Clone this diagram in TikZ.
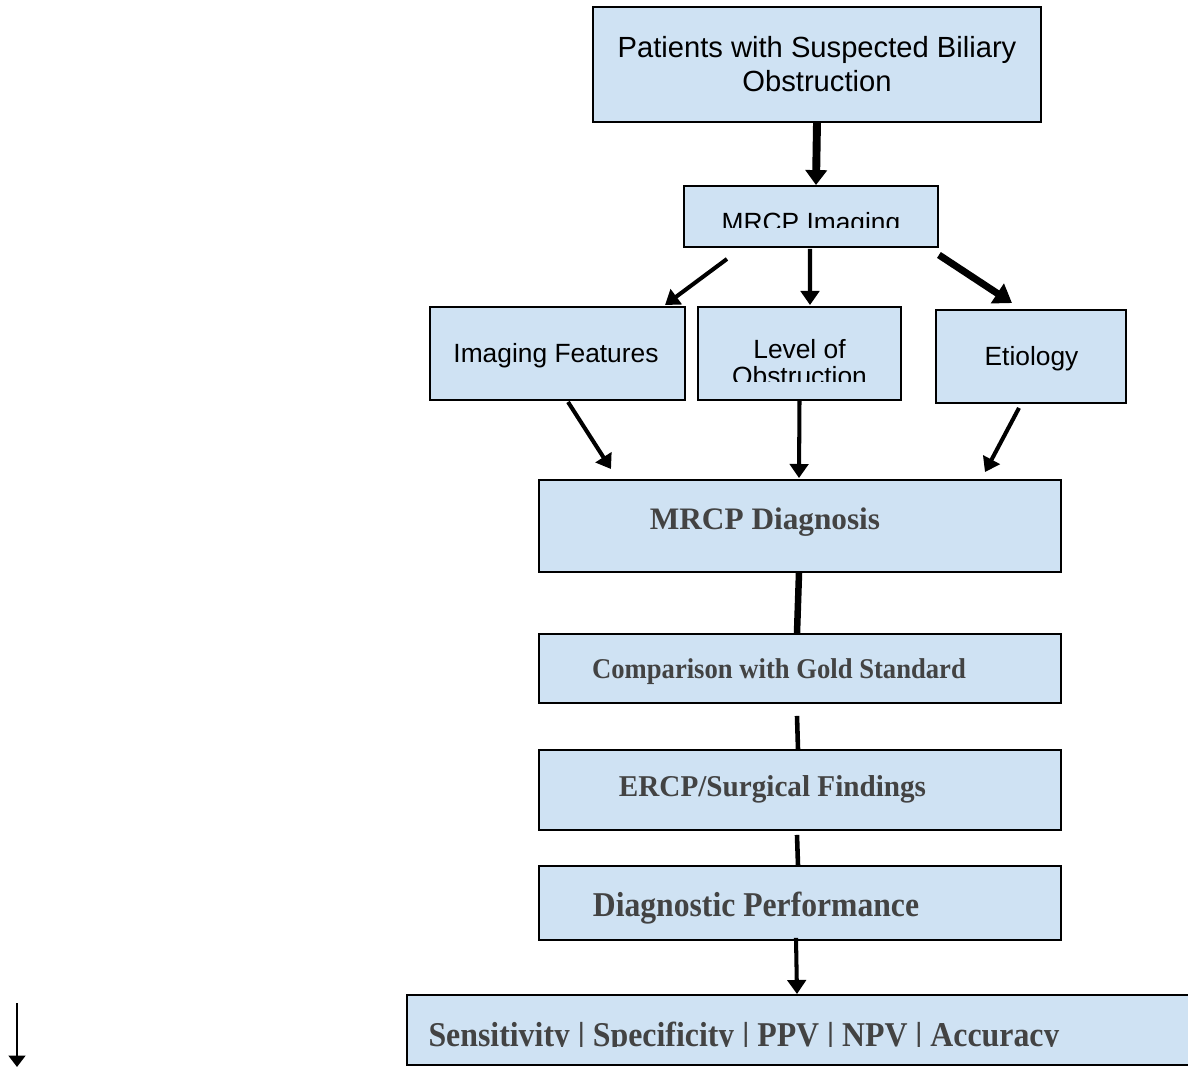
\documentclass[tikz,border=0pt]{standalone}
\usepackage{fontspec}
\usepackage{graphicx}
\usetikzlibrary{arrows.meta}
\setmainfont{Liberation Serif}
\setsansfont{Liberation Sans}

\definecolor{boxblue}{HTML}{CFE2F3}
\definecolor{inkgray}{HTML}{434343}

\newcommand{\plainfont}{\sffamily\fontsize{15}{15.1}\selectfont}
\newcommand{\heavyfont}[1]{\color{inkgray}\bfseries\fontsize{#1}{#1}\selectfont}

\tikzset{
  box/.style={draw=black, fill=boxblue, line width=1.1pt, inner sep=0pt},
  % text shift from the centre / font / text / cut below the centre / anchor
  say/.style n args={5}{path picture={
      \clip ([shift={(-900,-900)}]path picture bounding box.center) rectangle ([shift={(900,#4)}]path picture bounding box.center);
      \node[anchor=#5, inner sep=0pt, align=center, font=#2] at ([shift={#1}]path picture bounding box.center) {#3};}},
  arr/.style={line width=2.3pt, -{Triangle[length=8pt, width=10.5pt]}},
  fatarr/.style={line width=4.5pt, -{Triangle[length=8.5pt, width=12pt]}},
  widearr/.style={line width=4pt, -{Triangle[length=10pt, width=13pt]}},
  thinarr/.style={line width=1.5pt, -{Triangle[length=6.5pt, width=9.5pt]}},
  link/.style={line width=2.6pt},
}

\begin{document}
\begin{tikzpicture}[x=0.02cm, y=-0.02cm]
\useasboundingbox (0,0) rectangle (1188,1067);
\clip (0,0) rectangle (1188,1067);

% upper part
\node[box, minimum width=8.96cm, minimum height=2.30cm,
  say={(0,0)}{\sffamily\fontsize{16.6}{19.3}\selectfont}{Patients with Suspected Biliary\\Obstruction}{900}{center}] (patients) at (817,64.5) {};
\node[box, minimum width=5.08cm, minimum height=1.22cm,
  say={(0,15)}{\plainfont}{MRCP Imaging}{11.5}{base}] (mrcp) at (811,216.5) {};
\node[box, minimum width=5.10cm, minimum height=1.86cm,
  say={(-1.5,9.5)}{\plainfont}{Imaging Features}{900}{base}] (feat) at (557.5,353.5) {};
\node[box, minimum width=4.06cm, minimum height=1.86cm,
  say={(0,9)}{\plainfont}{Level of\\Obstruction}{28}{center}] (level) at (799.5,353.5) {};
\node[box, minimum width=3.80cm, minimum height=1.86cm,
  say={(0.5,9.5)}{\plainfont}{Etiology}{900}{base}] (etio) at (1031,356.5) {};

% lower part
\node[box, minimum width=10.44cm, minimum height=1.84cm,
  say={(-35,4)}{\heavyfont{17.8}}{MRCP Diagnosis}{900}{base}] (diag) at (800,526) {};
\node[box, minimum width=10.44cm, minimum height=1.38cm,
  say={(-21,10.5)}{\heavyfont{16.3}}{\scalebox{0.93}[1]{Comparison with Gold Standard}}{900}{base}] (comp) at (800,668.5) {};
\node[box, minimum width=10.44cm, minimum height=1.60cm,
  say={(-27.5,6.7)}{\heavyfont{17.2}}{\scalebox{0.965}[1]{ERCP/Surgical Findings}}{900}{base}] (ercp) at (800,790) {};
\node[box, minimum width=10.44cm, minimum height=1.48cm,
  say={(-44,13)}{\heavyfont{19.8}}{\scalebox{0.91}[1]{Diagnostic Performance}}{900}{base}] (perf) at (800,903) {};
\node[box, minimum width=15.86cm, minimum height=1.40cm,
  say={(-59.5,16)}{\heavyfont{19.8}}{\scalebox{0.915}[1]{Sensitivity | Specificity | PPV | NPV | Accuracy}}{16.5}{base}] (result) at (803.5,1030) {};

% connectors
\draw[fatarr] (patients.south) -- ([shift={(5,0)}]mrcp.north);
\draw[arr] ([shift={(-84,11)}]mrcp.south) -- ([shift={(107.5,-1)}]feat.north);
\draw[arr] ([shift={(-1,1)}]mrcp.south) -- ([shift={(10.5,-1)}]level.north);
\draw[widearr] ([shift={(0,7)}]mrcp.south east) -- ([shift={(-19,-6)}]etio.north);
\draw[arr] ([shift={(10.5,1)}]feat.south) -- ([shift={(-189,-10)}]diag.north);
\draw[arr] (level.south) -- ([shift={(-1,-1)}]diag.north);
\draw[arr] ([shift={(-12,4)}]etio.south) -- ([shift={(185,-7)}]diag.north);
\draw[link, line width=3.7pt] ([shift={(-1,0)}]diag.south) -- ([shift={(-3,0)}]comp.north);
\draw[link] ([shift={(-3,12)}]comp.south) -- ([shift={(-2,0)}]ercp.north);
\draw[link] ([shift={(-3,4)}]ercp.south) -- ([shift={(-2,0)}]perf.north);
\draw[arr] ([shift={(-4,-3)}]perf.south) -- ([shift={(-6.5,0)}]result.north);

% stray arrow
\coordinate (loose) at (17,1003);
\coordinate (loose end) at (17,1067);
\draw[thinarr] (loose) -- (loose end);
\end{tikzpicture}
\end{document}
